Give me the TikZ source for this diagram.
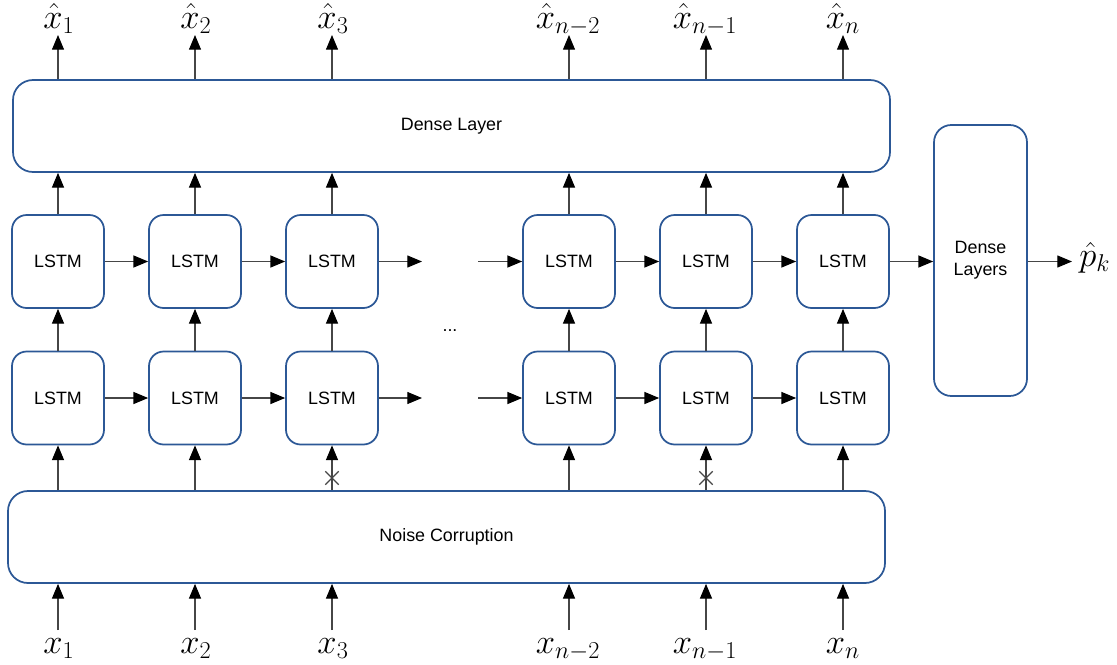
\RequirePackage{fix-cm}
\documentclass[tikz,border=0pt]{standalone}
\usepackage{fontspec}
\setmainfont{Liberation Sans}
\usetikzlibrary{arrows.meta,shapes.misc,calc}
\definecolor{boxblue}{RGB}{44,88,150}
\definecolor{lineg}{RGB}{70,70,70}
\begin{document}
\begin{tikzpicture}[x=0.75pt,y=-0.75pt,
  txt/.style={font=\fontsize{13.4}{16.5}\selectfont},
  blk/.style={draw=boxblue,line width=1.3pt,rectangle,fill=white,txt},
  lstm/.style={blk,minimum width=69pt,minimum height=69.75pt,rounded corners=11pt},
  wide/.style={blk,minimum width=657.75pt,minimum height=69pt,rounded corners=15pt},
  arr/.style={draw=lineg,line width=0.8pt,-{Triangle[length=11pt,width=9pt,color=black]}},
  mlab/.style={font=\fontsize{26}{30}\selectfont,inner sep=0pt,anchor=base},
  xmark/.style={draw=lineg,line width=1pt,cross out,minimum size=9pt,inner sep=0pt}
]
\useasboundingbox (0,0) rectangle (1117,664);

% big boxes
\node[wide] (dense) at (451.5,126) {Dense Layer};
\node[wide] (noise) at (446.5,537) {Noise Corruption};
\node[blk,minimum width=69.75pt,minimum height=203.25pt,rounded corners=13pt,align=center] (dl) at (980.5,260.5) {Dense\\Layers};

% LSTM cells
\foreach \i/\x in {1/58,2/195,3/332,4/569,5/706,6/843}{
  \node[lstm] (t\i) at (\x,261.5) {LSTM};
  \node[lstm] (b\i) at (\x,398) {LSTM};
  \coordinate (o\i) at (\x,35);
  \coordinate (in\i) at (\x,630);
}

% output labels
\node[mlab] (xh1) at (59,28) {$\hat{x}_1$};
\node[mlab] (xh2) at (196,28) {$\hat{x}_2$};
\node[mlab] (xh3) at (333,28) {$\hat{x}_3$};
\node[mlab] (xh4) at (568,28) {$\hat{x}_{n-2}$};
\node[mlab] (xh5) at (705,28) {$\hat{x}_{n-1}$};
\node[mlab] (xh6) at (843,28) {$\hat{x}_n$};

% input labels
\node[mlab] (x1) at (59,653) {$x_1$};
\node[mlab] (x2) at (196,653) {$x_2$};
\node[mlab] (x3) at (333,653) {$x_3$};
\node[mlab] (x4) at (568,653) {$x_{n-2}$};
\node[mlab] (x5) at (705,653) {$x_{n-1}$};
\node[mlab] (x6) at (843,653) {$x_n$};

% vertical connectors
\foreach \i in {1,...,6}{
  \draw[arr] (dense.north -| o\i) -- (o\i);
  \draw[arr] (t\i.north) -- (t\i.north |- dense.south);
  \draw[arr] (b\i.north) -- (t\i.south);
  \draw[arr] (in\i) -- (noise.south -| in\i);
  \draw[arr] (noise.north -| b\i) -- (b\i.south);
}
\node[xmark] (cx3) at (332,478) {};
\node[xmark] (cx5) at (706,478) {};

% horizontal connectors
\foreach \a/\b in {1/2,2/3,4/5,5/6}{
  \draw[arr] (t\a.east) -- (t\b.west);
  \draw[arr] (b\a.east) -- (b\b.west);
}
\coordinate (te) at (422,261.5);
\coordinate (ts) at (478,261.5);
\coordinate (be) at (422,398);
\coordinate (bs) at (478,398);
\draw[arr] (t3.east) -- (te);
\draw[arr] (ts) -- (t4.west);
\draw[arr] (b3.east) -- (be);
\draw[arr] (bs) -- (b4.west);

\node[txt] (dots) at (450,331) {...};

% to dense layers and output
\draw[arr] (t6.east) -- (t6.east -| dl.west);
\coordinate (pk) at (1072,261.5);
\draw[arr] (dl.east |- t6) -- (pk);
\node[mlab,anchor=base west] (pklab) at (1079,266) {$\hat{p}_k$};
\end{tikzpicture}
\end{document}
